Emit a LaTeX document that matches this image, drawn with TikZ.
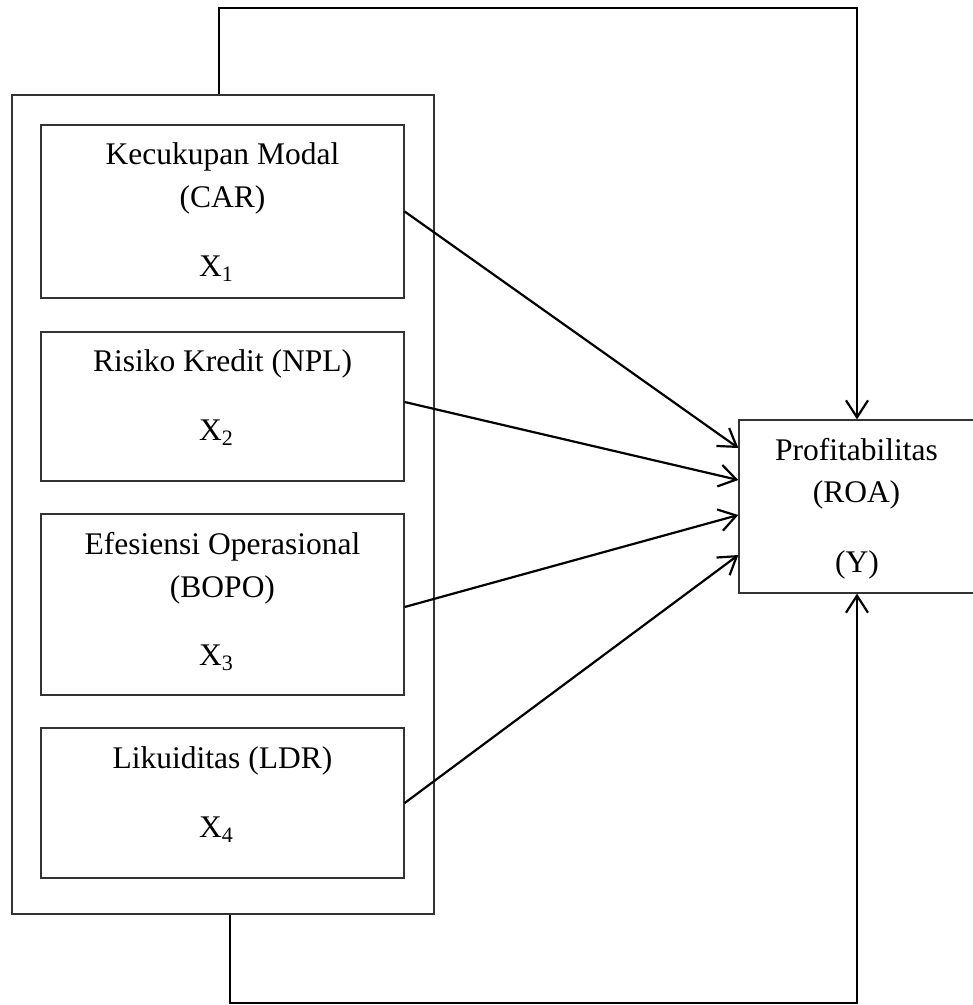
\documentclass[tikz,border=0pt]{standalone}
\usepackage{fontspec}
\setmainfont{Liberation Serif}
\usetikzlibrary{arrows.meta}
\newcommand\xsub[1]{X\raisebox{-5pt}{\fontsize{22}{22}\selectfont #1}}
\begin{document}
\begin{tikzpicture}[x=1pt,y=-1pt,
  boxst/.style={draw=black!80, line width=1.3pt, inner sep=0pt},
  lbl/.style={anchor=base, inner sep=0pt, font=\fontsize{31.5}{38}\selectfont},
  conn/.style={line width=2.2pt, -{Straight Barb[length=17pt,width=22pt]}}]
\useasboundingbox (0,0) rectangle (973,1005);

\node[boxst, minimum width=422, minimum height=819] (outer) at (223,504.5) {};
\node[boxst, minimum width=363, minimum height=173] (b1) at (222.5,211.5) {};
\node[boxst, minimum width=363, minimum height=149] (b2) at (222.5,406.5) {};
\node[boxst, minimum width=363, minimum height=181] (b3) at (222.5,604.5) {};
\node[boxst, minimum width=363, minimum height=150] (b4) at (222.5,803) {};
\node[boxst, minimum width=236, minimum height=173] (yb) at (857,506.5) {};

\node[lbl] (t1a) at (222.5,164) {Kecukupan Modal};
\node[lbl] (t1b) at (222.5,207) {(CAR)};
\node[lbl] (t1c) at (216,276) {\xsub{1}};
\node[lbl] (t2a) at (222.5,371) {Risiko Kredit (NPL)};
\node[lbl] (t2b) at (216,440) {\xsub{2}};
\node[lbl] (t3a) at (222.5,554) {Efesiensi Operasional};
\node[lbl] (t3b) at (222.5,597) {(BOPO)};
\node[lbl] (t3c) at (216,665) {\xsub{3}};
\node[lbl] (t4a) at (222.5,768) {Likuiditas (LDR)};
\node[lbl] (t4b) at (216,837) {\xsub{4}};
\node[lbl] (tya) at (856.5,460) {Profitabilitas};
\node[lbl] (tyb) at (856.5,502) {(ROA)};
\node[lbl] (tyc) at (857,572) {(Y)};

\draw[conn] (b1.east) -- ([yshift=58.5pt]yb.west);
\draw[conn] ([yshift=4.5pt]b2.east) -- ([yshift=26.5pt]yb.west);
\draw[conn] ([yshift=-2.5pt]b3.east) -- ([yshift=-8.5pt]yb.west);
\draw[conn] (b4.east) -- ([yshift=-48.5pt]yb.west);

\draw[conn] ([xshift=-4pt]outer.north) -- ++(0,-86) -| (yb.north);
\draw[conn] ([xshift=7pt]outer.south) -- ++(0,88) -| (yb.south);
\end{tikzpicture}
\end{document}
